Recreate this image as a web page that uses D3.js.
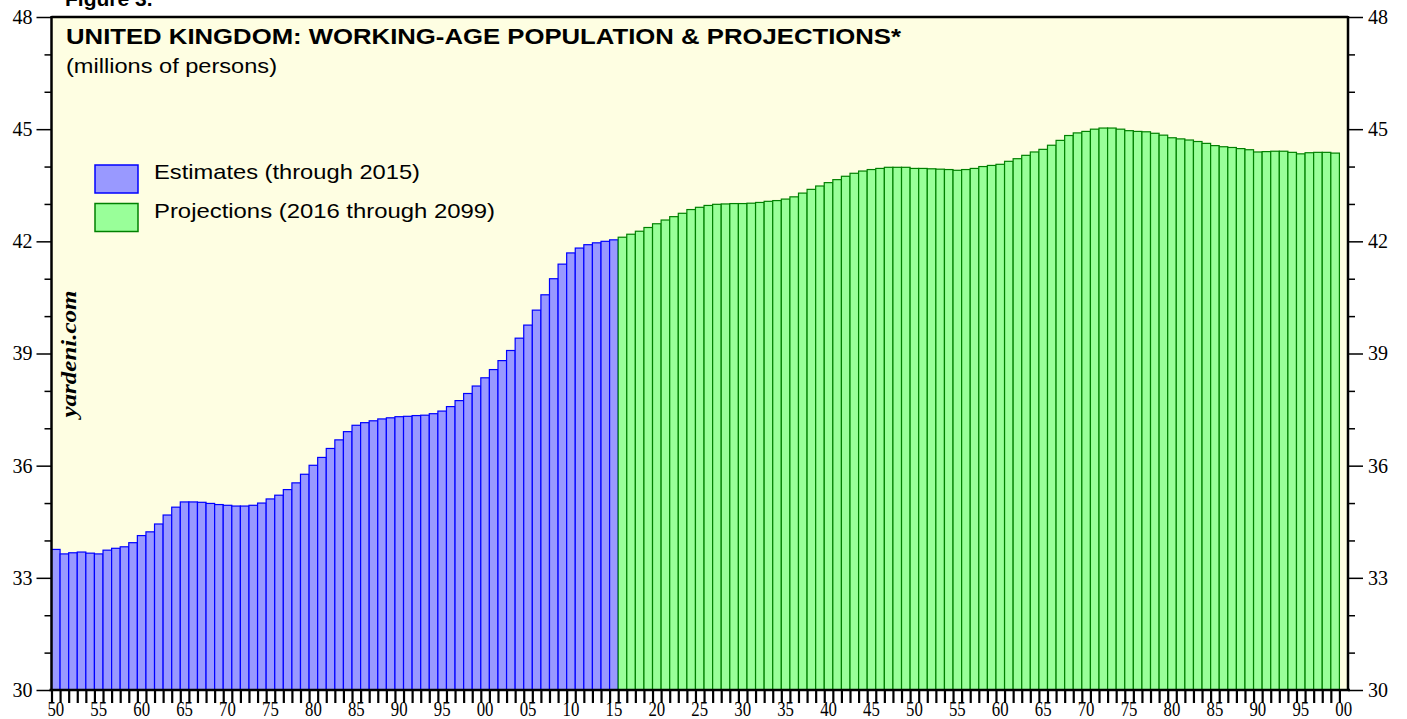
<!DOCTYPE html>
<html>
<head>
<meta charset="utf-8">
<script src="https://cdn.jsdelivr.net/npm/d3@7"></script>
<style>
  body { margin: 0; background: #fff; }
  svg { display: block; }
  .sans { font-family: "Liberation Sans", Arial, Helvetica, sans-serif; }
  .serif { font-family: "Liberation Serif", "Times New Roman", Times, serif; }
</style>
</head>
<body>
<div id="chart"></div>
<script>
// working-age population, millions
var estYears = d3.range(1950, 2016);
var estimates = [
  33.76, 33.64, 33.67, 33.69, 33.66, 33.64, 33.74, 33.79, 33.83, 33.94,
  34.13, 34.23, 34.44, 34.68, 34.89, 35.03, 35.03, 35.02, 34.99, 34.96,
  34.94, 34.92, 34.92, 34.94, 35.00, 35.11, 35.21, 35.36, 35.54, 35.77,
  36.01, 36.22, 36.46, 36.69, 36.91, 37.08, 37.15, 37.20, 37.25, 37.28,
  37.31, 37.32, 37.34, 37.35, 37.39, 37.46, 37.58, 37.74, 37.93, 38.13,
  38.35, 38.57, 38.81, 39.08, 39.41, 39.76, 40.16, 40.57, 41.00, 41.39,
  41.69, 41.82, 41.91, 41.96, 42.00, 42.04
];
var projYears = d3.range(2016, 2100);
var projections = [
  42.11, 42.19, 42.27, 42.37, 42.47, 42.57, 42.66, 42.75, 42.85, 42.91,
  42.96, 42.99, 43.00, 43.01, 43.01, 43.02, 43.04, 43.07, 43.09, 43.13,
  43.19, 43.29, 43.39, 43.48, 43.57, 43.65, 43.74, 43.82, 43.88, 43.92,
  43.95, 43.98, 43.98, 43.98, 43.95, 43.95, 43.94, 43.93, 43.92, 43.90,
  43.92, 43.95, 44.00, 44.03, 44.06, 44.14, 44.21, 44.30, 44.39, 44.46,
  44.57, 44.70, 44.83, 44.90, 44.94, 45.00, 45.03, 45.03, 45.00, 44.96,
  44.94, 44.93, 44.89, 44.84, 44.77, 44.74, 44.71, 44.67, 44.62, 44.56,
  44.53, 44.51, 44.48, 44.45, 44.39, 44.40, 44.41, 44.41, 44.38, 44.34,
  44.37, 44.38, 44.38, 44.36
];
var yTicks = d3.range(30, 49, 3);
var xLabelYears = d3.range(1950, 2101, 5);

var W = 1407, H = 719;
var plotL = 51.5, plotR = 1348, plotT = 17, plotB = 690;

var svg = d3.select("#chart").append("svg")
  .attr("width", W).attr("height", H);

// scales
var x = d3.scaleBand()
  .domain(d3.range(1950, 2101))
  .range([plotL, plotR])
  .paddingInner(0).paddingOuter(0);
var xl = d3.scaleLinear().domain([1950, 2101]).range([plotL, plotR]);
var y = d3.scaleLinear().domain([30, 48]).range([plotB, plotT]);

// plot background
svg.append("rect")
  .attr("x", plotL).attr("y", plotT)
  .attr("width", plotR - plotL).attr("height", plotB - plotT)
  .attr("fill", "#fefee2");

// bars
var estData = estYears.map(function (d, i) { return { year: d, value: estimates[i] }; });
var projData = projYears.map(function (d, i) { return { year: d, value: projections[i] }; });

function drawBars(data, fill, stroke) {
  svg.append("g").selectAll("rect")
    .data(data)
    .enter().append("rect")
    .attr("x", function (d) { return x(d.year); })
    .attr("y", function (d) { return y(d.value); })
    .attr("width", x.bandwidth())
    .attr("height", function (d) { return plotB - y(d.value); })
    .attr("fill", fill)
    .attr("stroke", stroke)
    .attr("stroke-width", 1.2);
}
drawBars(estData, "#9999ff", "#0000ff");
drawBars(projData, "#99ff99", "#008000");

// frame
svg.append("line").attr("x1", plotL).attr("x2", plotR).attr("y1", plotT).attr("y2", plotT)
  .attr("stroke", "#000").attr("stroke-width", 2.5);
svg.append("line").attr("x1", plotL).attr("x2", plotL).attr("y1", plotT - 1).attr("y2", plotB + 1)
  .attr("stroke", "#000").attr("stroke-width", 2.5);
svg.append("line").attr("x1", plotR).attr("x2", plotR).attr("y1", plotT - 1).attr("y2", plotB + 1)
  .attr("stroke", "#000").attr("stroke-width", 2.5);

// y axes, major every 3, minor every 1
var yMinor = d3.range(30, 49, 1).filter(function (d) { return (d % 3) != 0; });

var leftAxis = svg.append("g").attr("transform", "translate(" + plotL + ",0)");
leftAxis.call(d3.axisLeft(y).tickValues(yTicks).tickSize(15).tickPadding(4).tickFormat(d3.format("d")));
leftAxis.append("g").call(d3.axisLeft(y).tickValues(yMinor).tickSize(7).tickFormat(""));

var rightAxis = svg.append("g").attr("transform", "translate(" + plotR + ",0)");
rightAxis.call(d3.axisRight(y).tickValues(yTicks).tickSize(15).tickPadding(5).tickFormat(d3.format("d")));
rightAxis.append("g").call(d3.axisRight(y).tickValues(yMinor).tickSize(7).tickFormat(""));

svg.selectAll(".domain").remove();
[leftAxis, rightAxis].forEach(function (a) {
  a.selectAll("line").attr("stroke", "#000").attr("stroke-width", 1.5);
  a.selectAll("text")
    .style("font-family", "'Liberation Serif', 'Times New Roman', serif")
    .style("font-size", "20px")
    .attr("fill", "#000");
});

// x axis: tick at every year boundary, label at bar centre
var xAxisG = svg.append("g").attr("transform", "translate(0," + plotB + ")");
xAxisG.call(d3.axisBottom(xl).tickValues(d3.range(1950, 2101)).tickSize(13).tickFormat(""));
xAxisG.select(".domain").remove();
xAxisG.selectAll("line").attr("stroke", "#000").attr("stroke-width", 2.2);

svg.append("line").attr("x1", plotL - 2).attr("x2", plotR + 2).attr("y1", plotB).attr("y2", plotB)
  .attr("stroke", "#000").attr("stroke-width", 2.5);

svg.append("g").selectAll("text")
  .data(xLabelYears)
  .enter().append("text")
  .attr("class", "serif")
  .attr("transform", function (d) {
    return "translate(" + (x(d) + x.bandwidth() / 2) + ",716) scale(0.8,1)";
  })
  .attr("text-anchor", "middle")
  .style("font-size", "21px")
  .text(function (d) { return d3.format("02d")(d % 100); });

// titles
svg.append("text").attr("class", "sans")
  .attr("x", 65).attr("y", 6)
  .style("font-size", "21px").style("font-weight", "bold")
  .text("Figure 3.");

svg.append("text").attr("class", "sans")
  .attr("x", 66).attr("y", 44)
  .attr("textLength", 835).attr("lengthAdjust", "spacingAndGlyphs")
  .style("font-size", "22.5px").style("font-weight", "bold")
  .text("UNITED KINGDOM: WORKING-AGE POPULATION & PROJECTIONS*");

svg.append("text").attr("class", "sans")
  .attr("x", 66).attr("y", 73)
  .attr("textLength", 211).attr("lengthAdjust", "spacingAndGlyphs")
  .style("font-size", "21px")
  .text("(millions of persons)");

// legend
var legend = [
  { label: "Estimates (through 2015)", width: 266, fill: "#9999ff", stroke: "#0000ff" },
  { label: "Projections (2016 through 2099)", width: 341, fill: "#99ff99", stroke: "#008000" }
];
var lg = svg.append("g").selectAll("g")
  .data(legend)
  .enter().append("g")
  .attr("transform", function (d, i) { return "translate(95," + (165 + i * 38.5) + ")"; });
lg.append("rect")
  .attr("width", 43).attr("height", 28)
  .attr("fill", function (d) { return d.fill; })
  .attr("stroke", function (d) { return d.stroke; })
  .attr("stroke-width", 1.5);
lg.append("text").attr("class", "sans")
  .attr("x", 59).attr("y", 14)
  .attr("textLength", function (d) { return d.width; })
  .attr("lengthAdjust", "spacingAndGlyphs")
  .style("font-size", "21px")
  .text(function (d) { return d.label; });

// watermark
svg.append("text").attr("class", "serif")
  .attr("transform", "translate(76,354) rotate(-90)")
  .attr("text-anchor", "middle")
  .attr("textLength", 127).attr("lengthAdjust", "spacingAndGlyphs")
  .style("font-size", "21px").style("font-weight", "bold").style("font-style", "italic")
  .text("yardeni.com");
</script>
</body>
</html>
